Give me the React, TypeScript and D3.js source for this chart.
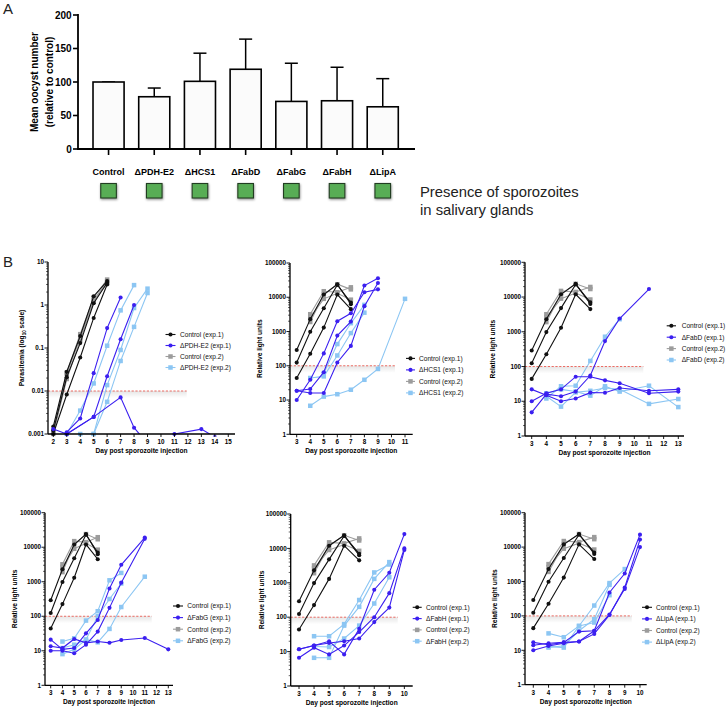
import React from 'react';
import * as d3 from 'd3';

type Pt = [number, number];
type Mouse = Pt[];

// ---------- Panel A data ----------
const categories = ['Control', 'ΔPDH-E2', 'ΔHCS1', 'ΔFabD', 'ΔFabG', 'ΔFabH', 'ΔLipA'];
const oocystMean = [100, 78, 101, 119, 71, 72, 63];
const oocystErrTop = [100, 91, 143, 164, 128, 122, 105];
const oocystTicks = [0, 50, 100, 150, 200];

// ---------- Panel B data ----------
// Chart 1: parasitemia (PDH-E2)
const pdhCtrl1: Mouse[] = [
  [[2, 0.0015], [3, 0.028], [4, 0.19], [5, 1.6], [6, 3.6]],
  [[2, 0.0012], [3, 0.021], [4, 0.13], [5, 1.1], [6, 3.3]],
  [[2, 0.001], [3, 0.0083], [4, 0.06], [5, 0.5], [6, 3.0]],
];
const pdhCtrl2: Mouse[] = [
  [[2, 0.0012], [3, 0.027], [4, 0.21], [5, 1.5], [6, 3.9]],
  [[2, 0.0011], [3, 0.025], [4, 0.17], [5, 1.3], [6, 3.5]],
  [[2, 0.001], [3, 0.019], [4, 0.15], [5, 1.2], [6, 3.2]],
];
const pdhMut1: Mouse[] = [
  [[3, 0.0011], [4, 0.0023], [5, 0.026], [6, 0.29], [7, 1.5]],
  [[3, 0.001], [5, 0.0025], [6, 0.022], [7, 0.16], [8, 1.0]],
  [[2, 0.0013], [3, 0.001], [5, 0.0025], [7, 0.0071], [8, 0.0014], [9, 0.0006], [10, 0.0006], [11, 0.001], [13, 0.0013], [14, 0.00085]],
];
const pdhMut2: Mouse[] = [
  [[3, 0.001], [4, 0.0035], [5, 0.015], [6, 0.113], [7, 0.75], [8, 2.9]],
  [[4, 0.001], [5, 0.001], [6, 0.0056], [7, 0.05], [8, 0.31], [9, 1.9]],
  [[5, 0.001], [6, 0.0137], [7, 0.09], [8, 0.85], [9, 2.4]],
];

// Shared luciferase controls
const rluCtrl1: Mouse[] = [
  [[3, 290], [4, 2300], [5, 12000], [6, 24000], [7, 6300]],
  [[3, 124], [4, 980], [5, 4800], [6, 23000], [7, 7000]],
  [[3, 44], [4, 225], [5, 1300], [6, 12000], [7, 4500]],
];
const rluCtrl2: Mouse[] = [
  [[4, 3200], [5, 15000], [6, 14000], [7, 19500]],
  [[4, 1900], [5, 12000], [6, 24000], [7, 17000]],
  [[4, 2600], [5, 9000], [6, 13000], [7, 8500]],
];

const hcsMut1: Mouse[] = [
  [[3, 10], [4, 39], [5, 230], [6, 2000], [7, 3400], [8, 14000], [9, 17000]],
  [[3, 18.7], [4, 21], [5, 65], [6, 760], [7, 1950], [8, 22000], [9, 36000]],
  [[3, 18.7], [4, 16], [5, 16], [6, 125], [7, 380], [8, 5500], [9, 26000]],
];
const hcsMut2: Mouse[] = [
  [[4, 6.8], [5, 12.6], [6, 14.8], [7, 20], [8, 39], [9, 81], [11, 9000]],
  [[4, 44], [5, 49], [6, 200], [7, 900], [8, 3550]],
  [[5, 60], [6, 430], [7, 1750], [8, 6000]],
];

const fabdMut1: Mouse[] = [
  [[3, 22], [4, 15], [5, 10], [6, 12], [7, 17.7], [8, 17.6], [9, 24], [11, 20], [13, 22]],
  [[3, 10], [4, 17], [5, 22], [6, 51], [7, 51], [8, 40], [9, 33], [11, 17], [13, 19]],
  [[3, 4.8], [4, 16], [5, 14], [6, 19], [7, 55], [8, 540], [9, 2400], [11, 17000]],
];
const fabdMut2: Mouse[] = [
  [[4, 12], [5, 27], [6, 28], [7, 145], [8, 720], [9, 2300]],
  [[4, 17], [5, 22], [6, 19], [7, 14.5], [8, 27], [9, 19], [11, 28], [13, 6.8]],
  [[4, 14], [5, 7], [6, 18], [7, 20], [8, 24], [9, 22], [11, 8.4], [13, 11.6]],
];

const fabgMut1: Mouse[] = [
  [[3, 13.5], [4, 12], [5, 22], [6, 17], [7, 18.5], [8, 17], [9, 20.5], [11, 23.5], [13, 11]],
  [[3, 21], [4, 11], [5, 12], [6, 32], [7, 78], [8, 640], [9, 3100], [11, 19000]],
  [[3, 10], [4, 10], [5, 8.5], [6, 15], [7, 36], [8, 175], [9, 940], [11, 17500]],
];
const fabgMut2: Mouse[] = [
  [[4, 18.5], [5, 23], [6, 75], [7, 140], [8, 1100], [9, 1800]],
  [[4, 8], [5, 11], [6, 21], [7, 100], [8, 316], [9, 890]],
  [[4, 12], [5, 15], [6, 21], [7, 17.6], [8, 43], [9, 185], [11, 1400]],
];

const fabhMut1: Mouse[] = [
  [[3, 11.7], [4, 15], [5, 20], [6, 8.3], [7, 46], [8, 630], [9, 1950], [10, 26000]],
  [[3, 6.6], [4, 13], [5, 8.3], [6, 15], [7, 37], [8, 100], [9, 500], [10, 10000]],
  [[3, 11.7], [4, 15], [5, 17.8], [6, 20], [7, 24], [8, 72], [9, 190], [10, 9000]],
];
const fabhMut2: Mouse[] = [
  [[4, 28], [5, 28], [6, 63], [7, 316], [8, 2000], [9, 3400]],
  [[4, 6.6], [5, 6.6], [6, 57], [7, 200], [8, 1300], [9, 4000]],
  [[4, 14], [5, 13.6], [6, 24], [7, 57], [8, 250], [9, 1450]],
];

const lipaMut1: Mouse[] = [
  [[3, 17], [4, 14.5], [5, 17], [6, 35], [7, 37], [8, 480], [9, 1700], [10, 23000]],
  [[3, 14], [4, 16], [5, 17], [6, 18], [7, 30], [8, 107], [9, 670], [10, 16500]],
  [[3, 10], [4, 13.3], [5, 16], [6, 18], [7, 37], [8, 110], [9, 610], [10, 10000]],
];
const lipaMut2: Mouse[] = [
  [[4, 31], [5, 24], [6, 51], [7, 200], [8, 900], [9, 2300]],
  [[4, 12], [5, 13.6], [6, 37], [7, 80], [8, 800]],
  [[4, 13], [5, 12], [6, 51], [7, 64], [8, 400]],
];

const parasitemiaTicks = [0.001, 0.01, 0.1, 1, 10];
const parasitemiaTickLabels = ['0.001', '0.01', '0.1', '1', '10'];
const rluTicks = [1, 10, 100, 1000, 10000, 100000];
const rluTickLabels = ['1', '10', '100', '1000', '10000', '100000'];

// ---------- styles ----------
const FONT = '"Liberation Sans", Arial, Helvetica, sans-serif';
const C_BLACK = '#111111';
const C_BLUE = '#3b1ff0';
const C_GRAY = '#9c9c9c';
const C_LBLUE = '#8cc6f3';
const C_RED = '#e8463c';

type Cfg = {
  id: string;
  left: number; right: number; first: number; px0: number; step: number;
  top: number; bottom: number; yDomain: [number, number];
  days: number[];
  ticks: number[]; tickLabels: string[];
  threshold: number; redEnd: number;
  legX0: number; legX1: number; legTx: number; legY0: number; legDy: number;
  yLabelX: number;
};

type Group = { mice: Mouse[]; color: string; shape: 'circle' | 'square'; label: string };

function Marker({ x, y, color, shape }: { x: number; y: number; color: string; shape: 'circle' | 'square' }) {
  if (shape === 'circle') return <circle cx={x} cy={y} r={2.05} fill={color} />;
  return <rect x={x - 2.25} y={y - 2.25} width={4.5} height={4.5} fill={color} />;
}

function LogPanel({ cfg, groups, yLabel }: { cfg: Cfg; groups: Group[]; yLabel: React.ReactNode }) {
  const x = d3.scaleLinear()
    .domain([cfg.first - (cfg.px0 - cfg.left) / cfg.step, cfg.first + (cfg.right - cfg.px0) / cfg.step])
    .range([cfg.left, cfg.right]);
  const y = d3.scaleLog().domain(cfg.yDomain).range([cfg.bottom, cfg.top]);
  const line = d3.line<Pt>().x(d => x(d[0])).y(d => y(d[1]));
  const minor: number[] = [];
  const lo = Math.log10(cfg.yDomain[0]);
  const hi = Math.log10(cfg.yDomain[1]);
  for (let e = lo; e < hi; e++) for (let k = 2; k <= 9; k++) minor.push(k * Math.pow(10, e));
  const yThr = y(cfg.threshold);
  const order = [2, 0, 3, 1];
  return (
    <g>
      <defs>
        <clipPath id={`clipL-${cfg.id}`}>
          <rect x={cfg.left} y={cfg.top - 20} width={cfg.right - cfg.left + 10} height={cfg.bottom - cfg.top + 20} />
        </clipPath>
        <clipPath id={`clipM-${cfg.id}`}>
          <rect x={cfg.left - 5} y={cfg.top - 20} width={cfg.right - cfg.left + 15} height={cfg.bottom - cfg.top + 22.5} />
        </clipPath>
      </defs>
      <rect x={cfg.left} y={yThr} width={cfg.redEnd - cfg.left} height={7} fill={`url(#thrShade)`} />
      <line x1={cfg.left} x2={cfg.redEnd} y1={yThr} y2={yThr} stroke={C_RED} strokeWidth={0.8} strokeDasharray="2.2,1.6" />
      {order.map(gi => {
        const g = groups[gi];
        return (
          <g key={gi}>
            <g clipPath={`url(#clipL-${cfg.id})`}>
              {g.mice.map((m, mi) => (
                <path key={mi} d={line(m) || ''} fill="none" stroke={g.color} strokeWidth={1.1} />
              ))}
            </g>
            <g clipPath={`url(#clipM-${cfg.id})`}>
              {g.mice.map((m, mi) => m.map((p, pi) => (
                <Marker key={`${mi}-${pi}`} x={x(p[0])} y={y(p[1])} color={g.color} shape={g.shape} />
              )))}
            </g>
          </g>
        );
      })}
      <line x1={cfg.left} x2={cfg.left} y1={cfg.top} y2={cfg.bottom} stroke="#000" strokeWidth={1.3} />
      <line x1={cfg.left} x2={cfg.right} y1={cfg.bottom} y2={cfg.bottom} stroke="#000" strokeWidth={1.3} />
      {minor.map((v, i) => (
        <line key={i} x1={cfg.left - 2} x2={cfg.left} y1={y(v)} y2={y(v)} stroke="#000" strokeWidth={0.6} />
      ))}
      {cfg.ticks.map((v, i) => (
        <g key={i}>
          <line x1={cfg.left - 3.5} x2={cfg.left} y1={y(v)} y2={y(v)} stroke="#000" strokeWidth={0.9} />
          <text x={cfg.left - 4} y={y(v) + 2.2} textAnchor="end" fontSize={6.3} fontWeight="bold" fontFamily={FONT}>
            {cfg.tickLabels[i]}
          </text>
        </g>
      ))}
      {cfg.days.map(d => (
        <g key={d}>
          <line x1={x(d)} x2={x(d)} y1={cfg.bottom} y2={cfg.bottom + 3} stroke="#000" strokeWidth={0.9} />
          <text x={x(d)} y={cfg.bottom + 9.8} textAnchor="middle" fontSize={6.3} fontWeight="bold" fontFamily={FONT}>{d}</text>
        </g>
      ))}
      <text x={(cfg.left + cfg.right) / 2} y={cfg.bottom + 19} textAnchor="middle" fontSize={6.6} fontWeight="bold" fontFamily={FONT}>
        Day post sporozoite injection
      </text>
      <text transform={`translate(${cfg.yLabelX + 2.4},${(cfg.top + cfg.bottom) / 2}) rotate(-90)`} textAnchor="middle" fontSize={6.6} fontWeight="bold" fontFamily={FONT}>
        {yLabel}
      </text>
      {groups.map((g, i) => {
        const ly = cfg.legY0 + i * cfg.legDy;
        return (
          <g key={i}>
            <line x1={cfg.legX0} x2={cfg.legX1} y1={ly} y2={ly} stroke={g.color} strokeWidth={1.1} />
            <Marker x={(cfg.legX0 + cfg.legX1) / 2} y={ly} color={g.color} shape={g.shape} />
            <text x={cfg.legTx} y={ly + 2.3} fontSize={6.6} fontFamily={FONT} fill="#111">{g.label}</text>
          </g>
        );
      })}
    </g>
  );
}

function makeGroups(ctrl1: Mouse[], mut1: Mouse[], ctrl2: Mouse[], mut2: Mouse[], name: string): Group[] {
  return [
    { mice: ctrl1, color: C_BLACK, shape: 'circle', label: 'Control (exp.1)' },
    { mice: mut1, color: C_BLUE, shape: 'circle', label: `${name} (exp.1)` },
    { mice: ctrl2, color: C_GRAY, shape: 'square', label: 'Control (exp.2)' },
    { mice: mut2, color: C_LBLUE, shape: 'square', label: `${name} (exp.2)` },
  ];
}

const rluBase = { yDomain: [1, 100000] as [number, number], ticks: rluTicks, tickLabels: rluTickLabels, threshold: 100 };

const cfg1: Cfg = {
  id: 'c1', left: 48, right: 235, first: 2, px0: 53.3, step: 13.46, top: 262, bottom: 434,
  yDomain: [0.001, 10], days: d3.range(2, 16), ticks: parasitemiaTicks, tickLabels: parasitemiaTickLabels,
  threshold: 0.01, redEnd: 186.7, legX0: 165.5, legX1: 175.5, legTx: 180, legY0: 334.5, legDy: 11, yLabelX: 21.7,
};
const cfg2: Cfg = {
  id: 'c2', left: 290, right: 412.7, first: 3, px0: 296.7, step: 13.54, top: 263, bottom: 434.3,
  ...rluBase, days: d3.range(3, 12), redEnd: 395, legX0: 406, legX1: 415, legTx: 419, legY0: 358.4, legDy: 11.5, yLabelX: 260,
};
const cfg3: Cfg = {
  id: 'c3', left: 525, right: 684, first: 3, px0: 531.7, step: 14.66, top: 262.3, bottom: 436,
  ...rluBase, days: d3.range(3, 14), redEnd: 643.3, legX0: 666.7, legX1: 676, legTx: 681.7, legY0: 325.8, legDy: 11.4, yLabelX: 493,
};
const cfg4: Cfg = {
  id: 'c4', left: 45, right: 173, first: 3, px0: 50.7, step: 11.76, top: 512.7, bottom: 685.3,
  ...rluBase, days: d3.range(3, 14), redEnd: 151.7, legX0: 173, legX1: 183, legTx: 187.3, legY0: 606, legDy: 11.6, yLabelX: 15,
};
const cfg5: Cfg = {
  id: 'c5', left: 290.7, right: 412.7, first: 3, px0: 299, step: 15.05, top: 514, bottom: 686,
  ...rluBase, days: d3.range(3, 11), redEnd: 397.7, legX0: 412.7, legX1: 421.7, legTx: 426, legY0: 607.3, legDy: 11.3, yLabelX: 261.7,
};
const cfg6: Cfg = {
  id: 'c6', left: 525, right: 646.7, first: 3, px0: 533.3, step: 15.24, top: 512.7, bottom: 684.7,
  ...rluBase, days: d3.range(3, 11), redEnd: 631.7, legX0: 642, legX1: 652, legTx: 656, legY0: 607.3, legDy: 11.6, yLabelX: 495,
};

function PanelA() {
  const y = d3.scaleLinear().domain([0, 200]).range([149, 15]);
  const x = d3.scaleBand().domain(categories).range([85.7, 405.6]).paddingInner(0.32).paddingOuter(0.16);
  const bw = x.bandwidth();
  return (
    <g>
      <defs>
        <filter id="sqShadow" x="-50%" y="-50%" width="200%" height="200%">
          <feDropShadow dx="0.5" dy="1.2" stdDeviation="1.1" floodColor="#000" floodOpacity="0.45" />
        </filter>
      </defs>
      <text x={3} y={13.5} fontSize={15} fontFamily={FONT} fill="#222">A</text>
      {categories.map((c, i) => {
        const cx = (x(c) as number) + bw / 2;
        return (
          <g key={c}>
            <line x1={cx} x2={cx} y1={y(oocystMean[i])} y2={y(oocystErrTop[i])} stroke="#000" strokeWidth={1.5} />
            <line x1={cx - 6.5} x2={cx + 6.5} y1={y(oocystErrTop[i])} y2={y(oocystErrTop[i])} stroke="#000" strokeWidth={1.5} />
            <rect x={x(c)} y={y(oocystMean[i])} width={bw} height={y(0) - y(oocystMean[i])} fill="#fbfbfb" stroke="#000" strokeWidth={1.6} />
            <line x1={cx} x2={cx} y1={149} y2={155} stroke="#000" strokeWidth={1.6} />
            <text x={cx} y={175} textAnchor="middle" fontSize={9} fontWeight="bold" fontFamily={FONT}>{c}</text>
            <rect x={cx - 7.8} y={183.5} width={15.6} height={14.5} fill="#58ad55" stroke="#243d22" strokeWidth={1.1} filter="url(#sqShadow)" />
          </g>
        );
      })}
      <line x1={78} x2={78} y1={14} y2={150} stroke="#000" strokeWidth={1.8} />
      <line x1={77} x2={415} y1={149} y2={149} stroke="#000" strokeWidth={1.8} />
      {oocystTicks.map(t => (
        <g key={t}>
          <line x1={73} x2={78} y1={y(t)} y2={y(t)} stroke="#000" strokeWidth={1.6} />
          <text x={71.7} y={y(t) + 3.5} textAnchor="end" fontSize={10} fontWeight="bold" fontFamily={FONT}>{t}</text>
        </g>
      ))}
      <text transform="translate(38,82) rotate(-90)" textAnchor="middle" fontSize={10} fontWeight="bold" fontFamily={FONT}>Mean oocyst  number</text>
      <text transform="translate(52.5,82) rotate(-90)" textAnchor="middle" fontSize={10} fontWeight="bold" fontFamily={FONT}>(relative to control)</text>
      <text x={420} y={197} fontSize={14.8} fontFamily={FONT} fill="#222">Presence of sporozoites</text>
      <text x={420} y={215} fontSize={14.8} fontFamily={FONT} fill="#222">in salivary glands</text>
    </g>
  );
}

export default function App() {
  const rlu = 'Relative light units';
  const paraLabel = (
    <>
      Parasitemia (log<tspan fontSize={4.6} dy={1.6}>10</tspan><tspan dy={-1.6}> scale)</tspan>
    </>
  );
  return (
    <svg width={727} height={709} style={{ position: 'absolute', left: 0, top: 0, background: '#fff' }}>
      <defs>
        <linearGradient id="thrShade" x1="0" y1="0" x2="0" y2="1">
          <stop offset="0" stopColor="#000" stopOpacity={0.1} />
          <stop offset="1" stopColor="#000" stopOpacity={0} />
        </linearGradient>
      </defs>
      <rect width={727} height={709} fill="#fff" />
      <PanelA />
      <text x={3} y={267} fontSize={15} fontFamily={FONT} fill="#222">B</text>
      <LogPanel cfg={cfg1} groups={makeGroups(pdhCtrl1, pdhMut1, pdhCtrl2, pdhMut2, 'ΔPDH-E2')} yLabel={paraLabel} />
      <LogPanel cfg={cfg2} groups={makeGroups(rluCtrl1, hcsMut1, rluCtrl2, hcsMut2, 'ΔHCS1')} yLabel={rlu} />
      <LogPanel cfg={cfg3} groups={makeGroups(rluCtrl1, fabdMut1, rluCtrl2, fabdMut2, 'ΔFabD')} yLabel={rlu} />
      <LogPanel cfg={cfg4} groups={makeGroups(rluCtrl1, fabgMut1, rluCtrl2, fabgMut2, 'ΔFabG')} yLabel={rlu} />
      <LogPanel cfg={cfg5} groups={makeGroups(rluCtrl1, fabhMut1, rluCtrl2, fabhMut2, 'ΔFabH')} yLabel={rlu} />
      <LogPanel cfg={cfg6} groups={makeGroups(rluCtrl1, lipaMut1, rluCtrl2, lipaMut2, 'ΔLipA')} yLabel={rlu} />
    </svg>
  );
}
